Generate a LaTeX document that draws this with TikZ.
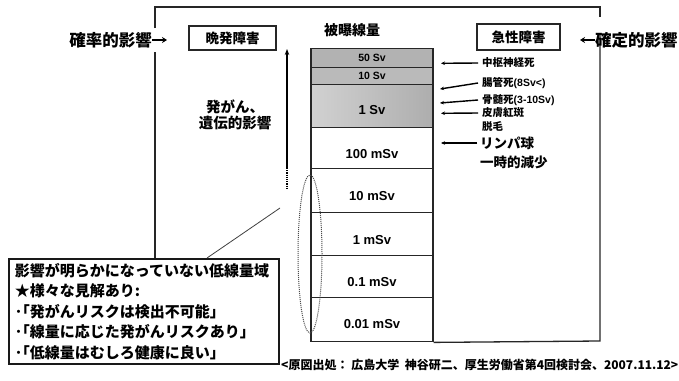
\documentclass[tikz,border=0pt]{standalone}
\usepackage{fontspec}
\setmainfont{Noto Sans CJK JP}
\newfontfamily\lat{Liberation Sans}
\usetikzlibrary{arrows.meta,shapes.geometric}
\newcommand\lowtxt[2]{\raisebox{-#1}[0pt][0pt]{#2}}
\begin{document}
\begin{tikzpicture}[x=1pt,y=-1pt,
  frame/.style={line width=1.3pt,draw=black!85},
  row/.style={draw=black!85,line width=1.4pt,minimum width=122pt,minimum height=#1,inner sep=0pt,anchor=north,font=\lat\bfseries\fontsize{13}{13}\selectfont},
  bigjp/.style={font=\bfseries\fontsize{16.5}{18}\selectfont},
  boxjp/.style={draw=black!85,line width=1.2pt,inner sep=0pt,font=\bfseries\fontsize{13.5}{15}\selectfont},
  smalljp/.style={font=\bfseries\fontsize{10.5}{12}\selectfont,anchor=west,inner sep=1pt},
  midjp/.style={font=\bfseries\fontsize{13.5}{19}\selectfont,align=left,anchor=west,inner sep=1pt},
  labarrow/.style={-{Stealth[length=4pt,width=3.5pt]},line width=1.4pt,draw=black,fill=black},
  bigarrow/.style={-{Stealth[length=5pt,width=6pt]},line width=2pt},
]
\useasboundingbox (0,0) rectangle (679,380);
\fill[white] (0,0) rectangle (679,380);

% column of dose rows
\node[row=19pt,fill=black!30] (r50) at (372,48) {\fontsize{10.5}{10}\selectfont 50 Sv};
\node[row=17pt,fill=black!27] (r10) at (372,67) {\fontsize{10.5}{10}\selectfont 10 Sv};
\node[row=43pt,left color=black!18,right color=black!32] (r1) at (372,84) {\lowtxt{8pt}{1 Sv}};
\node[row=41pt] (r100m) at (372,127) {\lowtxt{10pt}{100 mSv}};
\node[row=44pt] (r10m) at (372,168) {\lowtxt{10pt}{10 mSv}};
\node[row=43pt] (r1m) at (372,212) {\lowtxt{10pt}{1 mSv}};
\node[row=42pt] (r01m) at (372,255) {\lowtxt{10pt}{0.1 mSv}};
\node[row=44pt] (r001m) at (372,297) {\lowtxt{9pt}{0.01 mSv}};

\node[font=\bfseries\fontsize{14}{14}\selectfont] (head) at (352,30) {被曝線量};

% outer frame
\coordinate (ftl) at (155,7);
\coordinate (ftr) at (600,7);
\coordinate (flg1) at (155,28);
\coordinate (flg2) at (155,52);
\coordinate (frg1) at (600,17);
\coordinate (frg2) at (600,33);
\coordinate (fbr) at (600,341);
\draw[frame] (flg1) -- (ftl) -- (ftr) -- (frg1);
\draw[frame] (frg2) -- (fbr) -- (r001m.south east);

% left side
\node[bigjp,anchor=east,inner sep=0pt] (kakuritsu) at (152,40) {確率的影響};
\coordinate (ka) at (167,40);
\draw[bigarrow] (kakuritsu.east) -- (ka);
\node[boxjp,minimum width=87pt,minimum height=24pt] (bampatsu) at (232.5,38) {晩発障害};
\node[font=\bfseries\fontsize{14.5}{16}\selectfont,align=center,inner sep=0pt] (hatsugan) at (235,115) {発がん、\\遺伝的影響};
\coordinate (upT) at (287,49);
\coordinate (upM) at (287,168);
\coordinate (upB) at (287,188);
\draw[-{Stealth[length=6pt,width=4.5pt]},line width=1.2pt] (upM) -- (upT);
\draw[line width=1.2pt,densely dotted] (upM) -- (upB);

% right side
\node[boxjp,minimum width=83pt,minimum height=26pt] (kyusei) at (518.5,37) {急性障害};
\node[bigjp,anchor=west,inner sep=0pt] (kakutei) at (595,40) {確定的影響};
\coordinate (kb) at (580,40);
\draw[bigarrow] (kakutei.west) -- (kb);

\node[smalljp] (l1) at (481,63) {中枢神経死};
\node[smalljp] (l2) at (481,83) {腸管死\lat(8Sv<)};
\node[smalljp] (l3) at (481,100) {骨髄死\lat(3-10Sv)};
\node[smalljp] (l4) at (481,113) {皮膚紅斑};
\node[smalljp] (l5) at (481,127) {脱毛};
\node[midjp] (l6) at (479,153) {リンパ球\\一時的減少};
\coordinate (t1) at (441,63.3);
\coordinate (t2) at (440,89);
\coordinate (t3) at (440,103);
\coordinate (t4) at (441,113.3);
\coordinate (t6) at (441,143);
\coordinate (s6) at (477,143);

% low-dose region
\node[ellipse,draw=black!70,densely dotted,line width=1pt,minimum width=24pt,minimum height=158pt,inner sep=0pt] (ell) at (310,254) {};
\node[draw=black!90,line width=1.5pt,anchor=north west,minimum width=270pt,minimum height=105pt,inner xsep=6pt,inner ysep=0pt,text width=258pt,align=left,font=\bfseries\fontsize{15}{20.5}\selectfont] (note) at (8,258)
 {影響が明らかになっていない低線量域\\★様々な見解あり:\\･｢発がんリスクは検出不可能｣\\･｢線量に応じた発がんリスクあり｣\\･｢低線量はむしろ健康に良い｣};
\coordinate (noteA) at (207,258);
\coordinate (pt) at (280,208);
\draw[line width=0.8pt,draw=black!75] (noteA) -- (pt);
\draw[frame] (flg2) -- (flg2 |- note.north);

% source
\node[anchor=west,inner sep=0pt,font=\bfseries\fontsize{12}{12}\selectfont] (src) at (281,365) {<原図出処：\ 広島大学\ \ 神谷研二、厚生労働省第4回検討会、2007.11.12>};

% label arrows (drawn last)
\draw[labarrow] ([xshift=-3pt]l1.west) -- (t1);
\draw[labarrow] ([xshift=-3pt]l2.west) -- (t2);
\draw[labarrow] ([xshift=-3pt]l3.west) -- (t3);
\draw[labarrow] ([xshift=-3pt]l4.west) -- (t4);
\draw[labarrow] (s6) -- (t6);
\end{tikzpicture}
\end{document}
